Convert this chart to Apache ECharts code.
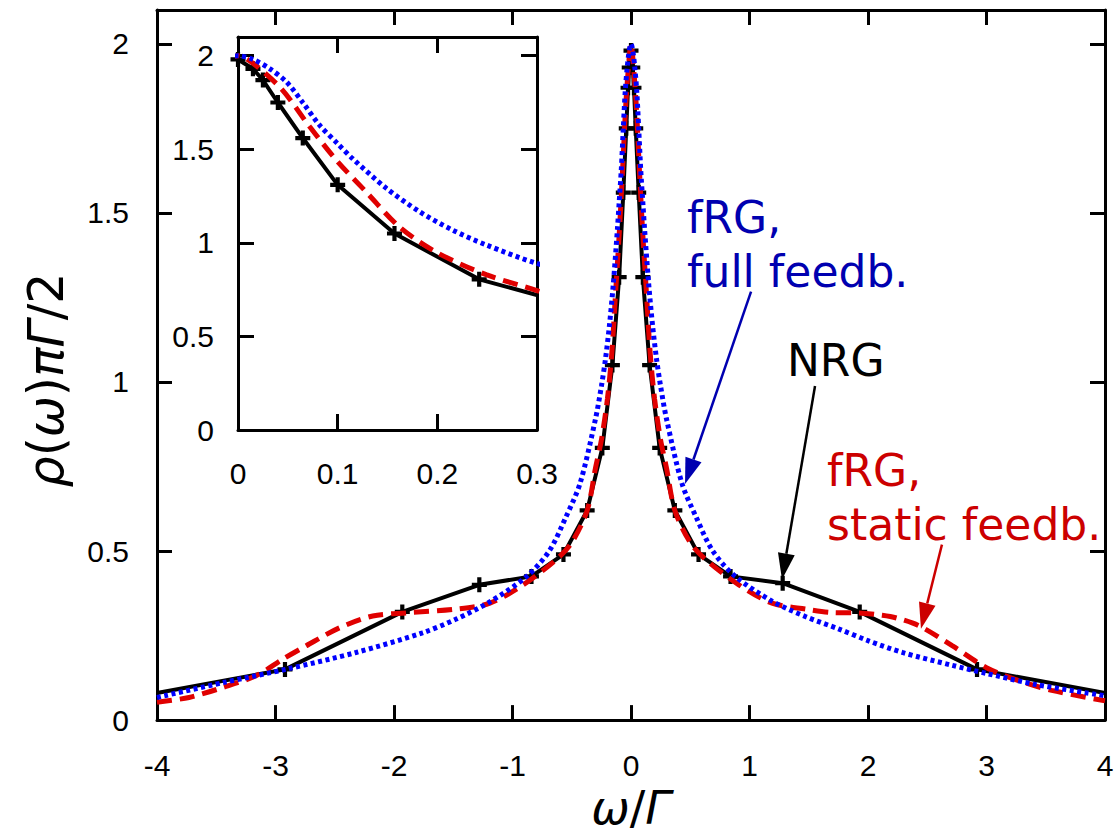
<!DOCTYPE html>
<html><head><meta charset="utf-8">
<script src="https://cdn.jsdelivr.net/npm/echarts@6/dist/echarts.min.js"></script>
<style>html,body{margin:0;padding:0;background:#fff}#c{width:1117px;height:836px}</style>
</head><body><div id="c"></div>
<script>
// ---- data ----
const nrgX = [-4, -2.92, -1.93, -1.28, -0.84, -0.57, -0.37, -0.242, -0.157, -0.10, -0.065, -0.04, -0.025, -0.015, 0,
              0.015, 0.025, 0.04, 0.065, 0.10, 0.157, 0.242, 0.37, 0.57, 0.84, 1.28, 1.93, 2.92, 4];
const nrgY = [0.08, 0.15, 0.32, 0.40, 0.425, 0.49, 0.62, 0.805, 1.05, 1.31, 1.56, 1.75, 1.87, 1.93, 1.98,
              1.93, 1.87, 1.75, 1.56, 1.31, 1.05, 0.805, 0.62, 0.49, 0.425, 0.405, 0.32, 0.15, 0.08];

const fullX = [-4, -3.44, -2.89, -2.32, -1.76, -1.48, -1.19, -0.88, -0.69, -0.55, -0.43, -0.3, -0.249, -0.215, -0.182, -0.149, -0.115, -0.1, -0.082, -0.065, -0.049, -0.032, -0.015, 0,
               0.015, 0.032, 0.049, 0.065, 0.082, 0.1, 0.115, 0.149, 0.182, 0.215, 0.249, 0.3, 0.43, 0.55, 0.69, 0.88, 1.19, 1.48, 1.75, 2.0, 2.29, 2.71, 3.0, 3.42, 4];
const fullY = [0.067, 0.111, 0.152, 0.20, 0.258, 0.298, 0.35, 0.425, 0.50, 0.60, 0.70, 0.89, 0.989, 1.069, 1.167, 1.291, 1.45, 1.53, 1.628, 1.75, 1.858, 1.93, 1.98, 2.0,
               1.98, 1.93, 1.858, 1.75, 1.628, 1.53, 1.45, 1.291, 1.167, 1.069, 0.989, 0.89, 0.70, 0.60, 0.50, 0.425, 0.352, 0.305, 0.27, 0.235, 0.20, 0.162, 0.138, 0.105, 0.072];

const staticX = [-4, -3.73, -3.44, -3.16, -2.94, -2.74, -2.46, -2.18, -1.9, -1.48, -1.19, -0.91, -0.63, -0.5, -0.37, -0.3, -0.249, -0.199, -0.162, -0.129, -0.099, -0.072, -0.044, -0.015, 0,
                 0.015, 0.044, 0.072, 0.099, 0.129, 0.162, 0.199, 0.249, 0.3, 0.37, 0.5, 0.63, 0.91, 1.19, 1.48, 1.7, 1.92, 2.12, 2.24, 2.43, 2.71, 3.0, 3.27, 3.55, 4];
const staticY = [0.053, 0.067, 0.097, 0.132, 0.18, 0.22, 0.273, 0.308, 0.317, 0.328, 0.346, 0.40, 0.475, 0.525, 0.62, 0.745, 0.83, 0.95, 1.085, 1.27, 1.44, 1.62, 1.82, 1.96, 2.0,
                 1.96, 1.82, 1.62, 1.44, 1.27, 1.085, 0.95, 0.83, 0.745, 0.62, 0.525, 0.475, 0.40, 0.346, 0.328, 0.318, 0.317, 0.31, 0.302, 0.279, 0.22, 0.155, 0.117, 0.088, 0.057];

const mainXTicks = ['-4', '-3', '-2', '-1', '0', '1', '2', '3', '4'];
const yTicks = ['0', '0.5', '1', '1.5', '2'];
const insetXTicks = ['0', '0.1', '0.2', '0.3'];

// ---- helpers ----
const pairs = (xs, ys) => xs.map((x, i) => [x, ys[i]]);
const nrgData = nrgX.map((x, i) => (Math.abs(x) >= 4 ? {value: [x, nrgY[i]], symbol: 'none'} : [x, nrgY[i]]));
const PLUS = 'path://M0,3.6 L3.6,3.6 L3.6,0 L6.4,0 L6.4,3.6 L10,3.6 L10,6.4 L6.4,6.4 L6.4,10 L3.6,10 L3.6,6.4 L0,6.4 Z';
const TICKFONT = 'Liberation Sans';
const BLACK = '#000';
const BLUE = '#0000ff';
const RED = '#e00000';

function axis(opt) {
  const base = {
    type: 'value', gridIndex: opt.grid, position: opt.position, min: opt.min, max: opt.max, interval: opt.interval,
    axisLine: {show: true, onZero: false, lineStyle: {color: BLACK, width: 3}},
    axisTick: {show: true, inside: true, length: opt.tickLen || 15, lineStyle: {color: BLACK, width: 3}},
    splitLine: {show: false},
    axisLabel: {
      show: !!opt.labels, color: BLACK, fontSize: 30, fontFamily: TICKFONT, margin: opt.margin || 12,
      formatter: function (v) {
        if (!opt.labels) return '';
        const k = Math.round((v - opt.min) / opt.interval);
        if (Math.abs(opt.min + k * opt.interval - v) > 1e-6) return '';
        return opt.labels[k] !== undefined ? opt.labels[k] : '';
      }
    }
  };
  return Object.assign(base, opt.extra || {});
}

const italic = {fontStyle: 'italic', fontFamily: 'DejaVu Sans', fontSize: 46, fill: BLACK, color: BLACK};
const upright = {fontStyle: 'normal', fontFamily: 'DejaVu Sans', fontSize: 46, fill: BLACK, color: BLACK};
const italicY = Object.assign({}, italic, {fontSize: 49});
const uprightY = Object.assign({}, upright, {fontSize: 49});

const option = {
  animation: false,
  backgroundColor: '#fff',
  grid: [
    {left: 157, top: 10, width: 948, height: 715},
    {left: 238, top: 37, width: 299, height: 393}
  ],
  xAxis: [
    axis({grid: 0, position: 'bottom', min: -4, max: 4, interval: 1, labels: mainXTicks, margin: 30,
      extra: {name: '{i|ω}{n|/}{i|Γ}', nameLocation: 'middle', nameGap: 62,
        nameTextStyle: {rich: {i: italic, n: upright}}}}),
    axis({grid: 0, position: 'top', min: -4, max: 4, interval: 1}),
    axis({grid: 1, position: 'bottom', min: 0, max: 0.3, interval: 0.1, labels: insetXTicks, margin: 28, tickLen: 16}),
    axis({grid: 1, position: 'top', min: 0, max: 0.3, interval: 0.1, tickLen: 16})
  ],
  yAxis: [
    axis({grid: 0, position: 'left', min: 0, max: 2.1, interval: 0.5, labels: yTicks, margin: 28}),
    axis({grid: 0, position: 'right', min: 0, max: 2.1, interval: 0.5}),
    axis({grid: 1, position: 'left', min: 0, max: 2.1, interval: 0.5, labels: yTicks, margin: 24, tickLen: 16}),
    axis({grid: 1, position: 'right', min: 0, max: 2.1, interval: 0.5, tickLen: 16})
  ],
  series: [0, 1].map(function (g) {
    const xi = g === 0 ? 0 : 2, yi = g === 0 ? 0 : 2;
    return [
      {type: 'line', xAxisIndex: xi, yAxisIndex: yi, data: nrgData, smooth: false,
        symbol: PLUS, symbolSize: 15, showAllSymbol: true, clip: true,
        itemStyle: {color: BLACK}, lineStyle: {color: BLACK, width: 4}, z: 3},
      {type: 'line', xAxisIndex: xi, yAxisIndex: yi, data: pairs(staticX, staticY), smooth: 0.3,
        showSymbol: false, clip: true,
        lineStyle: {color: RED, width: 5, type: [15, 8], cap: 'butt'}, z: 4},
      {type: 'line', xAxisIndex: xi, yAxisIndex: yi, data: pairs(fullX, fullY), smooth: 0.3,
        showSymbol: false, clip: true,
        lineStyle: {color: BLUE, width: 5, type: [4, 3.5], cap: 'butt'}, z: 5}
    ];
  }).flat()
};

// annotation anchors (data coordinates of main plot)
const notes = [
  {lines: ['fRG,', 'full feedb.'], at: [0.4726, 1.443], color: '#0000b0'},
  {lines: ['NRG'], at: [1.316, 1.0205], color: BLACK},
  {lines: ['fRG,', 'static feedb.'], at: [1.654, 0.695], color: '#cc0000'}
];
const arrows = [
  {from: [1.013, 1.267], to: [0.456, 0.698], color: '#0000b0'},
  {from: [1.553, 0.988], to: [1.274, 0.416], color: BLACK},
  {from: [2.624, 0.519], to: [2.447, 0.27], color: '#cc0000'}
];

const chart = echarts.init(document.getElementById('c'), null, {renderer: 'svg'});
chart.setOption(option);

function px(p) { return chart.convertToPixel({gridIndex: 0}, p); }
const graphics = [];
const FS = 44, LH = 54;
notes.forEach(function (n) {
  const p = px(n.at);
  n.lines.forEach(function (t, k) {
    graphics.push({type: 'text', x: p[0], y: p[1] + k * LH - 0.33 * FS, z: 100,
      style: {text: t, fill: n.color, fontSize: FS, fontFamily: 'DejaVu Sans', textAlign: 'left', textVerticalAlign: 'middle'}});
  });
});
arrows.forEach(function (a) {
  const s = px(a.from), e = px(a.to);
  const dx = e[0] - s[0], dy = e[1] - s[1], L = Math.hypot(dx, dy), ux = dx / L, uy = dy / L;
  const hl = 26, hw = 8.5;
  const b = [e[0] - ux * hl, e[1] - uy * hl];
  graphics.push({type: 'line', z: 100, shape: {x1: s[0], y1: s[1], x2: b[0], y2: b[1]}, style: {stroke: a.color, lineWidth: 2.5}});
  graphics.push({type: 'polygon', z: 100, shape: {points: [e, [b[0] - uy * hw, b[1] + ux * hw], [b[0] + uy * hw, b[1] - ux * hw]]}, style: {fill: a.color}});
});
// y-axis title (rotated)
graphics.push({type: 'text', x: 46, y: 380, rotation: Math.PI / 2, z: 100,
  style: {text: '{i|ρ}{n|(}{i|ω}{n|)}{i|πΓ}{n|/2}', rich: {i: italicY, n: uprightY}, textAlign: 'center', textVerticalAlign: 'middle'}});
chart.setOption({graphic: graphics});
</script>
</body></html>
